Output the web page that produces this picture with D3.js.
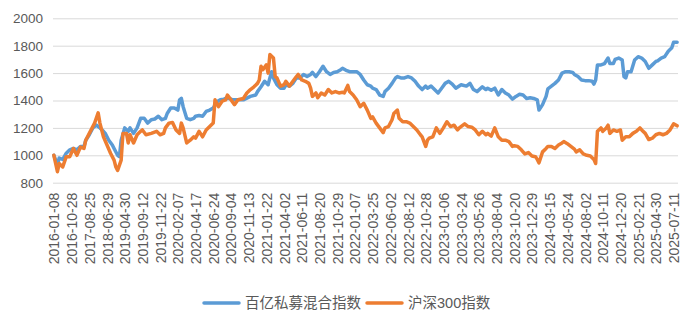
<!DOCTYPE html>
<html lang="zh">
<head>
    <meta charset="UTF-8">
    <title>百亿私募混合指数 vs 沪深300指数</title>
    <script src="https://cdnjs.cloudflare.com/ajax/libs/d3/7.8.5/d3.min.js"></script>
    <style>
        body {
            margin: 0;
            background: #fff;
        }
        /* Axis text */
        .tick text {
            fill: #595959;
            font-family: "Liberation Sans", Arial, "Noto Sans CJK SC", sans-serif;
        }
        .legend text {
            fill: #595959;
            font-family: "Liberation Sans", "Noto Sans CJK SC", sans-serif;
            font-size: 14.5px;
        }
    </style>
</head>
<body>
    <div id="chart"></div>

    <script>
        // Category labels, one every 10 observations
        const tickLabels = [
            "2016-01-08", "2016-10-28", "2017-08-25", "2018-06-29", "2019-04-30", "2019-09-12",
            "2019-11-22", "2020-02-07", "2020-04-17", "2020-06-24", "2020-09-04", "2020-11-13",
            "2021-01-22", "2021-04-02", "2021-06-11", "2021-08-20", "2021-10-29", "2022-01-07",
            "2022-03-25", "2022-06-02", "2022-08-12", "2022-10-28", "2023-01-06", "2023-03-24",
            "2023-05-26", "2023-08-04", "2023-10-20", "2023-12-29", "2024-03-15", "2024-05-24",
            "2024-08-02", "2024-10-11", "2024-12-20", "2025-02-21", "2025-04-30", "2025-07-11"
        ];
        const pointCount = 353;
        const yTicks = [800, 1000, 1200, 1400, 1600, 1800, 2000];

        const seriesNames = ["百亿私募混合指数", "沪深300指数"];
        const seriesColors = ["#5B9BD5", "#ED7D31"];

        const fundPoints = [
            [0,1000],[2,930],[3,980],[5,970],[7,1015],[9,1040],[11,1050],[13,1040],[15,1065],[17,1065],
            [18,1110],[20,1150],[22,1200],[24,1220],[26,1200],[28,1175],[29,1160],[31,1110],[33,1075],[34,1050],
            [36,1000],[37,990],[38,1110],[40,1200],[42,1175],[43,1200],[45,1160],[47,1200],[49,1270],[51,1270],
            [53,1235],[55,1260],[57,1265],[59,1285],[61,1260],[63,1270],[64,1305],[66,1345],[68,1345],[70,1330],
            [71,1405],[72,1415],[73,1355],[75,1270],[77,1260],[79,1270],[80,1285],[82,1290],[84,1285],[86,1320],
            [88,1330],[90,1345],[92,1390],[94,1405],[96,1410],[97,1415],[99,1415],[101,1405],[103,1405],[107,1405],
            [111,1430],[114,1440],[115,1465],[117,1500],[119,1540],[121,1515],[122,1565],[123,1610],[124,1565],[126,1515],
            [128,1490],[130,1490],[131,1515],[133,1505],[135,1525],[137,1565],[139,1565],[141,1590],[143,1575],[145,1590],
            [146,1605],[148,1575],[150,1610],[152,1650],[154,1610],[156,1590],[158,1605],[160,1610],[162,1625],[163,1635],
            [165,1620],[167,1610],[169,1610],[171,1610],[173,1590],[175,1550],[177,1515],[179,1505],[180,1490],[182,1480],
            [184,1440],[186,1430],[187,1465],[189,1490],[191,1525],[193,1565],[194,1575],[196,1565],[198,1565],[200,1575],
            [202,1565],[204,1540],[206,1505],[208,1480],[210,1505],[211,1490],[213,1505],[215,1480],[217,1455],[219,1490],
            [221,1525],[223,1540],[225,1520],[227,1490],[230,1515],[233,1505],[235,1525],[237,1480],[239,1465],[242,1500],
            [244,1480],[245,1490],[247,1475],[249,1490],[251,1440],[253,1480],[255,1455],[257,1440],[259,1410],[261,1430],
            [263,1445],[265,1440],[267,1415],[269,1420],[271,1415],[273,1405],[274,1330],[276,1370],[278,1430],[279,1485],
            [281,1505],[283,1525],[285,1550],[287,1600],[289,1610],[291,1610],[293,1605],[294,1590],[296,1575],[298,1550],
            [300,1545],[302,1545],[304,1540],[305,1520],[306,1550],[307,1660],[309,1660],[311,1670],[313,1710],[314,1670],
            [316,1670],[317,1700],[319,1710],[321,1695],[322,1575],[323,1565],[324,1610],[326,1610],[328,1695],[330,1720],
            [332,1710],[334,1685],[336,1635],[338,1660],[340,1685],[341,1690],[343,1710],[345,1720],[347,1760],[349,1785],
            [350,1825],[352,1825]
        ];

        const hs300Points = [
            [0,1000],[2,880],[3,940],[5,915],[7,990],[9,990],[11,1050],[13,1000],[15,1060],[17,1050],
            [18,1110],[20,1160],[23,1235],[25,1310],[26,1235],[28,1135],[30,1075],[32,1015],[34,965],[35,915],
            [36,890],[38,965],[39,1160],[41,1160],[42,1090],[43,1150],[45,1090],[47,1150],[49,1175],[50,1185],
            [52,1150],[55,1160],[58,1175],[60,1150],[62,1160],[63,1200],[65,1235],[67,1240],[69,1185],[71,1160],
            [72,1235],[73,1200],[75,1090],[77,1110],[79,1135],[80,1125],[82,1175],[84,1135],[86,1185],[88,1210],
            [90,1235],[91,1405],[93,1355],[95,1395],[97,1405],[98,1440],[100,1405],[102,1370],[104,1405],[107,1415],
            [109,1455],[111,1480],[113,1500],[115,1525],[116,1550],[117,1650],[118,1625],[120,1660],[121,1600],[122,1735],
            [124,1710],[125,1575],[126,1565],[128,1505],[130,1515],[131,1540],[133,1505],[135,1540],[137,1575],[138,1590],
            [140,1550],[142,1540],[144,1525],[145,1490],[146,1430],[148,1455],[149,1420],[151,1455],[153,1440],[155,1480],
            [157,1455],[159,1465],[161,1455],[163,1460],[164,1455],[166,1510],[167,1465],[169,1440],[171,1405],[173,1355],
            [175,1380],[177,1330],[179,1270],[180,1280],[182,1235],[184,1200],[186,1165],[187,1200],[189,1210],[191,1260],
            [192,1305],[194,1330],[195,1270],[197,1245],[199,1245],[201,1235],[203,1210],[205,1185],[207,1150],[208,1135],
            [210,1065],[211,1110],[212,1125],[214,1135],[216,1200],[218,1160],[220,1200],[222,1245],[224,1210],[226,1220],
            [228,1185],[229,1200],[232,1230],[234,1210],[236,1205],[238,1185],[240,1150],[242,1175],[244,1150],[245,1160],
            [247,1140],[249,1200],[251,1135],[253,1110],[255,1110],[257,1100],[259,1065],[260,1070],[262,1065],[264,1040],
            [266,1010],[268,1020],[270,995],[272,990],[273,970],[274,945],[276,1025],[278,1050],[279,1065],[281,1065],
            [283,1050],[285,1075],[287,1090],[288,1100],[290,1085],[292,1065],[294,1045],[295,1025],[297,1040],[299,1010],
            [301,1000],[303,995],[305,970],[306,940],[307,1175],[309,1200],[310,1175],[312,1200],[313,1220],[314,1160],
            [316,1185],[318,1175],[320,1185],[321,1110],[323,1135],[325,1135],[327,1160],[329,1175],[331,1200],[332,1185],
            [334,1160],[336,1115],[338,1125],[340,1150],[342,1160],[344,1150],[346,1160],[348,1185],[350,1230],[352,1215]
        ];

        // Chart geometry
        const width = 696;
        const height = 328;
        const plot = { left: 53, right: 678, top: 18.3, bottom: 182.7 };

        const svg = d3.select("#chart").append("svg")
            .attr("width", width)
            .attr("height", height);

        const x = d3.scaleLinear()
            .domain([-0.5, pointCount - 0.5])
            .range([plot.left, plot.right]);

        const y = d3.scaleLinear()
            .domain([800, 2000])
            .range([plot.bottom, plot.top]);

        // Gridlines and y labels
        const yAxis = svg.append("g")
            .attr("transform", `translate(${plot.left},0)`)
            .call(d3.axisLeft(y)
                .tickValues(yTicks)
                .tickSize(-(plot.right - plot.left))
                .tickPadding(10)
                .tickFormat(d3.format("d")));
        yAxis.select(".domain").remove();
        yAxis.selectAll(".tick line").attr("stroke", "#D9D9D9").attr("stroke-width", 1);
        yAxis.selectAll(".tick text").style("font-size", "13.5px");

        // X axis: vertical date labels every 10 observations
        const tickIdx = tickLabels.map((d, i) => i * 10);
        const xAxis = svg.append("g")
            .attr("transform", `translate(0,${plot.bottom})`)
            .call(d3.axisBottom(x)
                .tickValues(tickIdx)
                .tickSize(0)
                .tickFormat((d, i) => tickLabels[i]));
        xAxis.select(".domain").remove();
        xAxis.selectAll(".tick text")
            .style("font-size", "14px")
            .attr("text-anchor", "end")
            .attr("transform", "rotate(-90)")
            .attr("x", -10)
            .attr("y", 0)
            .attr("dy", "0.36em");

        // Lines
        const line = d3.line()
            .x(d => x(d[0]))
            .y(d => y(d[1]));

        [fundPoints, hs300Points].forEach((pts, i) => {
            svg.append("path")
                .datum(pts)
                .attr("fill", "none")
                .attr("stroke", seriesColors[i])
                .attr("stroke-width", 3.5)
                .attr("stroke-linejoin", "round")
                .attr("stroke-linecap", "round")
                .attr("d", line);
        });

        // Legend
        const legend = svg.append("g").attr("class", "legend");
        const legendY = 303;
        const legendX = [204, 367];
        seriesNames.forEach((name, i) => {
            legend.append("line")
                .attr("x1", legendX[i]).attr("x2", legendX[i] + 35)
                .attr("y1", legendY).attr("y2", legendY)
                .attr("stroke", seriesColors[i])
                .attr("stroke-width", 3.5)
                .attr("stroke-linecap", "round");
            legend.append("text")
                .attr("x", legendX[i] + 41)
                .attr("y", legendY)
                .attr("dy", "0.36em")
                .text(name);
        });
    </script>
</body>
</html>
